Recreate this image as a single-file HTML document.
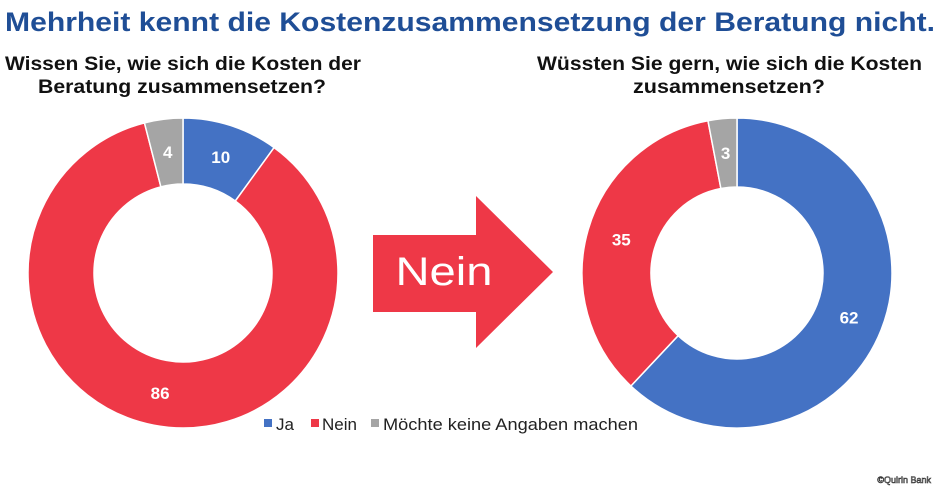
<!DOCTYPE html>
<html><head><meta charset="utf-8"><style>
html,body{margin:0;padding:0;background:#fff;width:940px;height:495px;overflow:hidden}
svg{display:block;font-family:"Liberation Sans",sans-serif}
</style></head><body>
<svg id="chart" width="940" height="495" viewBox="0 0 940 495">
<text x="5" y="31" font-size="27" font-weight="bold" fill="#1F4E96" textLength="930" lengthAdjust="spacingAndGlyphs">Mehrheit kennt die Kostenzusammensetzung der Beratung nicht.</text>
<text x="5" y="70" font-size="19" font-weight="bold" fill="#111" textLength="356" lengthAdjust="spacingAndGlyphs">Wissen Sie, wie sich die Kosten der</text>
<text x="38" y="93" font-size="19" font-weight="bold" fill="#111" textLength="288" lengthAdjust="spacingAndGlyphs">Beratung zusammensetzen?</text>
<text x="537" y="70" font-size="19" font-weight="bold" fill="#111" textLength="385" lengthAdjust="spacingAndGlyphs">Wüssten Sie gern, wie sich die Kosten</text>
<text x="633" y="93" font-size="19" font-weight="bold" fill="#111" textLength="192" lengthAdjust="spacingAndGlyphs">zusammensetzen?</text>
<g id="left"></g>
<g id="right"></g>
<polygon points="373,235 476,235 476,196 553,272 476,348 476,312 373,312" fill="#EE3847"/>
<text x="444" y="285" font-size="40" fill="#fff" text-anchor="middle" textLength="97" lengthAdjust="spacingAndGlyphs">Nein</text>
<g>
<rect x="264" y="419" width="8" height="8" fill="#4472C4"/>
<text x="276" y="430" font-size="17" fill="#222">Ja</text>
<rect x="311" y="419" width="8" height="8" fill="#EE3847"/>
<text x="322" y="430" font-size="17" fill="#222">Nein</text>
<rect x="371" y="419" width="8" height="8" fill="#A5A5A5"/>
<text x="383" y="430" font-size="17" fill="#222" textLength="255" lengthAdjust="spacingAndGlyphs">Möchte keine Angaben machen</text>
</g>
<text x="931" y="483" font-size="9" fill="#fff" stroke="#333" stroke-width="0.6" text-anchor="end">©Quirin Bank</text>
</svg>
<script>
const categories = ["Ja", "Nein", "Möchte keine Angaben machen"];
const leftValues = [10, 86, 4];
const rightValues = [62, 35, 3];
const colors = ["#4472C4", "#EE3847", "#A5A5A5"];
const NS = "http://www.w3.org/2000/svg";
function pt(cx, cy, r, a){return [cx + r*Math.sin(a), cy - r*Math.cos(a)];}
function drawDonut(g, values, cx, cy, ro, ri, side){
  const total = values.reduce((a,b)=>a+b,0);
  let start = 0;
  values.forEach((v,i)=>{
    const sweep = v/total*2*Math.PI;
    const end = start + sweep;
    const large = sweep > Math.PI ? 1 : 0;
    const [x1,y1]=pt(cx,cy,ro,start),[x2,y2]=pt(cx,cy,ro,end),[x3,y3]=pt(cx,cy,ri,end),[x4,y4]=pt(cx,cy,ri,start);
    const p = document.createElementNS(NS,"path");
    p.setAttribute("d",`M${x1},${y1}A${ro},${ro} 0 ${large} 1 ${x2},${y2}L${x3},${y3}A${ri},${ri} 0 ${large} 0 ${x4},${y4}Z`);
    p.setAttribute("fill",colors[i]);
    p.setAttribute("stroke","#fff");
    p.setAttribute("stroke-width","1.5");
    
    
    g.appendChild(p);
    const [lx,ly]=pt(cx,cy,(ro+ri)/2,start+sweep/2);
    const t = document.createElementNS(NS,"text");
    t.setAttribute("x",lx);t.setAttribute("y",ly+6);
    t.setAttribute("text-anchor","middle");t.setAttribute("font-size","17");
    t.setAttribute("font-weight","bold");t.setAttribute("fill","#fff");
    t.textContent = v;
    
    
    g.appendChild(t);
    start = end;
  });
}
drawDonut(document.getElementById("left"), leftValues, 183, 273, 155, 89, "left");
drawDonut(document.getElementById("right"), rightValues, 737, 273, 155, 86, "right");
</script>
</body></html>
